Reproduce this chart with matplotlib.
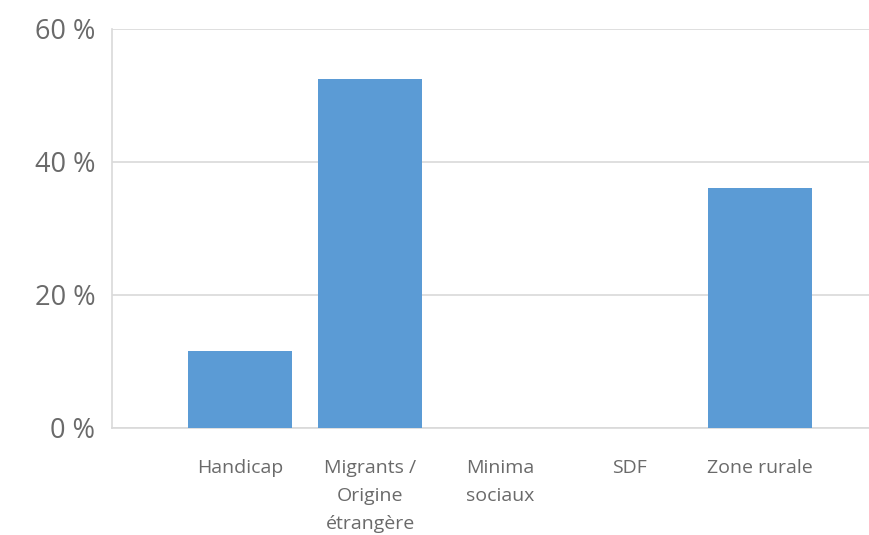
import matplotlib

matplotlib.use("Agg")
import matplotlib.pyplot as plt

# ---- Data ----
categories = ["Handicap", "Migrants /\nOrigine\nétrangère", "Minima\nsociaux", "SDF", "Zone rurale"]
shares = [11.6, 52.5, 0.0, 0.0, 36.1]
y_ticks = [0, 20, 40, 60]
y_tick_labels = ["0 %", "20 %", "40 %", "60 %"]

BAR_COLOR = "#5B9BD5"
GRID_COLOR = "#D9D9D9"
TEXT_COLOR = "#6A6A6A"

plt.rcParams["font.family"] = ["Open Sans", "DejaVu Sans"]

fig = plt.figure(figsize=(8.69, 5.35), dpi=100)
ax = fig.add_axes([0.129, 0.2, 0.871, 0.746])

x = range(len(categories))
ax.bar(x, shares, width=0.8, color=BAR_COLOR, zorder=3)

ax.set_xlim(-0.985, 4.84)
ax.set_ylim(0, 60)
ax.set_yticks(y_ticks)
ax.set_yticklabels(y_tick_labels, fontsize=19.5, color=TEXT_COLOR)
ax.set_xticks(list(x))
ax.set_xticklabels(categories, fontsize=14, color=TEXT_COLOR, linespacing=1.72, va="top")

ax.grid(axis="y", color=GRID_COLOR, linewidth=1.2, zorder=0)
ax.tick_params(axis="y", length=0, pad=12)
ax.tick_params(axis="x", length=0, pad=22)

for side in ["top", "right"]:
    ax.spines[side].set_visible(False)
ax.spines["left"].set_color(GRID_COLOR)
ax.spines["bottom"].set_color(GRID_COLOR)
ax.spines["left"].set_linewidth(1.2)
ax.spines["bottom"].set_linewidth(1.2)

fig.savefig("out.png", dpi=100)
